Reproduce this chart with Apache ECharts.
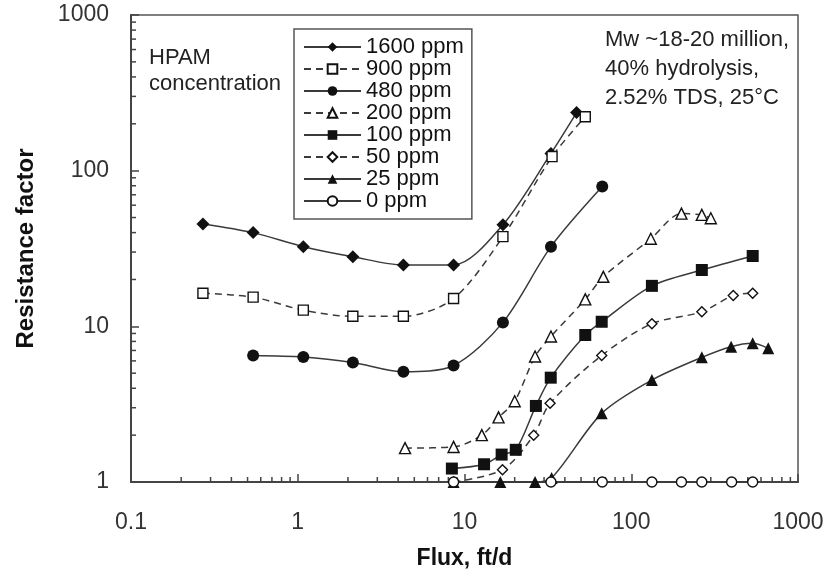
<!DOCTYPE html>
<html>
<head>
<meta charset="utf-8">
<script src="https://cdn.jsdelivr.net/npm/echarts@6/dist/echarts.min.js"></script>
<style>
html,body{margin:0;padding:0;background:#fff;}
#chart{width:832px;height:582px;}
</style>
</head>
<body>
<div id="chart"></div>
<script>
// ---- data (flux ft/d, resistance factor) ----
var seriesNames = ['1600 ppm', '900 ppm', '480 ppm', '200 ppm', '100 ppm', '50 ppm', '25 ppm', '0 ppm'];

var flux1600 = [0.27, 0.54, 1.08, 2.14, 4.3, 8.6, 17, 33, 47];
var rf1600   = [45.5, 40, 32.5, 28, 24.8, 24.8, 45, 129, 236];

var flux900 = [0.27, 0.54, 1.08, 2.14, 4.3, 8.6, 17, 33.5, 53];
var rf900   = [16.3, 15.4, 12.7, 11.6, 11.6, 15.1, 37.7, 123, 222];

var flux480 = [0.54, 1.08, 2.14, 4.3, 8.6, 17, 33, 67];
var rf480   = [6.5, 6.35, 5.85, 5.1, 5.6, 10.6, 32.5, 79];

var flux200 = [4.4, 8.6, 12.7, 16, 20, 26.5, 33, 53, 68, 131, 200, 265, 300];
var rf200   = [1.65, 1.68, 2.0, 2.6, 3.3, 6.4, 8.6, 14.9, 20.8, 36.5, 53, 52, 49.5];

var flux100 = [8.4, 13.1, 16.7, 20.3, 26.8, 32.9, 53, 66.5, 133, 265, 535];
var rf100   = [1.22, 1.3, 1.5, 1.61, 3.08, 4.68, 8.8, 10.7, 18.2, 23, 28.3];

var flux50 = [8.6, 16.9, 26, 32.6, 66.5, 133, 265, 409, 535];
var rf50   = [1.0, 1.2, 2.0, 3.2, 6.5, 10.4, 12.4, 15.8, 16.3];

var flux25 = [8.6, 16.4, 26.5, 33.3, 66.5, 133, 265, 397, 535, 663];
var rf25   = [1.0, 1.0, 1.0, 1.06, 2.76, 4.52, 6.32, 7.4, 7.78, 7.22];

var flux0 = [8.6, 33, 67, 133, 200, 265, 400, 535];
var rf0   = [1, 1, 1, 1, 1, 1, 1, 1];

var xTickLabels = ['0.1', '1', '10', '100', '1000'];
var yTickLabels = ['1', '10', '100', '1000'];
var minorMultipliers = [2, 3, 4, 5, 6, 7, 8, 9];
var xDecades = [0.1, 1, 10, 100];
var yDecades = [1, 10, 100];

// ---- build ----
function pairs(xs, ys) { return xs.map(function (x, i) { return [x, ys[i]]; }); }
var xMinor = [], yMinor = [];
xDecades.forEach(function (d) { minorMultipliers.forEach(function (m) { xMinor.push([+(d * m).toPrecision(3), 1]); }); });
yDecades.forEach(function (d) { minorMultipliers.forEach(function (m) { yMinor.push([0.1, +(d * m).toPrecision(3)]); }); });

var FONT = '"Liberation Sans", Arial, Helvetica, sans-serif';
var LINE = '#3a3a3a';
var INK = '#111';

function mk(name, data, symbol, size, filled, dashed) {
  return {
    name: name,
    type: 'line',
    data: data,
    symbol: symbol,
    symbolSize: size,
    smooth: 0.3,
    showAllSymbol: true,
    lineStyle: { color: LINE, width: 1.5, type: dashed ? [7, 5] : 'solid' },
    itemStyle: { color: filled ? INK : '#fff', borderColor: INK, borderWidth: filled ? 0 : 1.4 },
    emphasis: { disabled: true },
    z: 3
  };
}

var chart = echarts.init(document.getElementById('chart'), null, { renderer: 'canvas' });

var option = {
  animation: false,
  backgroundColor: '#fff',
  textStyle: { fontFamily: FONT },
  grid: { left: 131, top: 15, right: 34, bottom: 100, show: true, borderColor: '#555', borderWidth: 1.5, backgroundColor: 'transparent' },
  legend: {
    data: seriesNames,
    orient: 'vertical',
    left: 294,
    top: 29,
    itemWidth: 57,
    itemHeight: 12,
    itemGap: 0,
    padding: [7, 8, 7, 9],
    borderColor: '#555',
    borderWidth: 1.5,
    backgroundColor: '#fff',
    selectedMode: false,
    textStyle: { fontFamily: FONT, fontSize: 22, lineHeight: 22, color: INK, padding: [0, 0, 0, 0] }
  },
  xAxis: {
    type: 'log',
    logBase: 10,
    min: 0.1,
    max: 1000,
    name: 'Flux, ft/d',
    nameLocation: 'middle',
    nameGap: 65,
    nameTextStyle: { fontFamily: FONT, fontSize: 23, fontWeight: 'bold', color: INK },
    axisLine: { lineStyle: { color: '#444', width: 2 } },
    axisTick: { inside: true, length: 8, lineStyle: { color: '#444', width: 1.5 } },
    axisLabel: {
      fontFamily: FONT, fontSize: 23, color: '#333', margin: 29,
      showMinLabel: true, showMaxLabel: true,
      formatter: function (v) { var i = Math.round(Math.log10(v)) + 1; return xTickLabels[i] || ''; }
    },
    splitLine: { show: false }
  },
  yAxis: {
    type: 'log',
    logBase: 10,
    min: 1,
    max: 1000,
    name: 'Resistance factor',
    nameLocation: 'middle',
    nameGap: 93,
    nameTextStyle: { fontFamily: FONT, fontSize: 24, fontWeight: 'bold', color: INK },
    axisLine: { lineStyle: { color: '#444', width: 2 } },
    axisTick: { inside: true, length: 8, lineStyle: { color: '#444', width: 1.5 } },
    axisLabel: {
      fontFamily: FONT, fontSize: 23, color: '#333', margin: 22,
      showMinLabel: true, showMaxLabel: true,
      formatter: function (v) { var i = Math.round(Math.log10(v)); return yTickLabels[i] || ''; }
    },
    splitLine: { show: false }
  },
  graphic: [
    {
      type: 'text', left: 149, top: 45,
      style: { text: 'HPAM\nconcentration', font: '22px ' + FONT, lineHeight: 26, fill: '#222' }
    },
    {
      type: 'text', left: 605, top: 25,
      style: { text: 'Mw ~18-20 million,\n40% hydrolysis,\n2.52% TDS, 25\u00B0C', font: '22px ' + FONT, lineHeight: 29, fill: '#222' }
    }
  ],
  series: [
    {
      type: 'custom', name: 'xminor', silent: true, data: xMinor, z: 2,
      renderItem: function (params, api) {
        var p = api.coord([api.value(0), api.value(1)]);
        return { type: 'line', shape: { x1: p[0], y1: p[1], x2: p[0], y2: p[1] - 5 }, style: { stroke: '#444', lineWidth: 1.5 } };
      }
    },
    {
      type: 'custom', name: 'yminor', silent: true, data: yMinor, z: 2,
      renderItem: function (params, api) {
        var p = api.coord([api.value(0), api.value(1)]);
        return { type: 'line', shape: { x1: p[0], y1: p[1], x2: p[0] + 5, y2: p[1] }, style: { stroke: '#444', lineWidth: 1.5 } };
      }
    },
    mk('1600 ppm', pairs(flux1600, rf1600), 'diamond', 13, true, false),
    mk('900 ppm', pairs(flux900, rf900), 'rect', 10, false, true),
    mk('480 ppm', pairs(flux480, rf480), 'circle', 12, true, false),
    mk('200 ppm', pairs(flux200, rf200), 'triangle', 11, false, true),
    mk('100 ppm', pairs(flux100, rf100), 'rect', 12, true, false),
    mk('50 ppm', pairs(flux50, rf50), 'diamond', 10, false, true),
    mk('25 ppm', pairs(flux25, rf25), 'triangle', 12, true, false),
    mk('0 ppm', pairs(flux0, rf0), 'circle', 10, false, false)
  ]
};
chart.setOption(option);
</script>
</body>
</html>
